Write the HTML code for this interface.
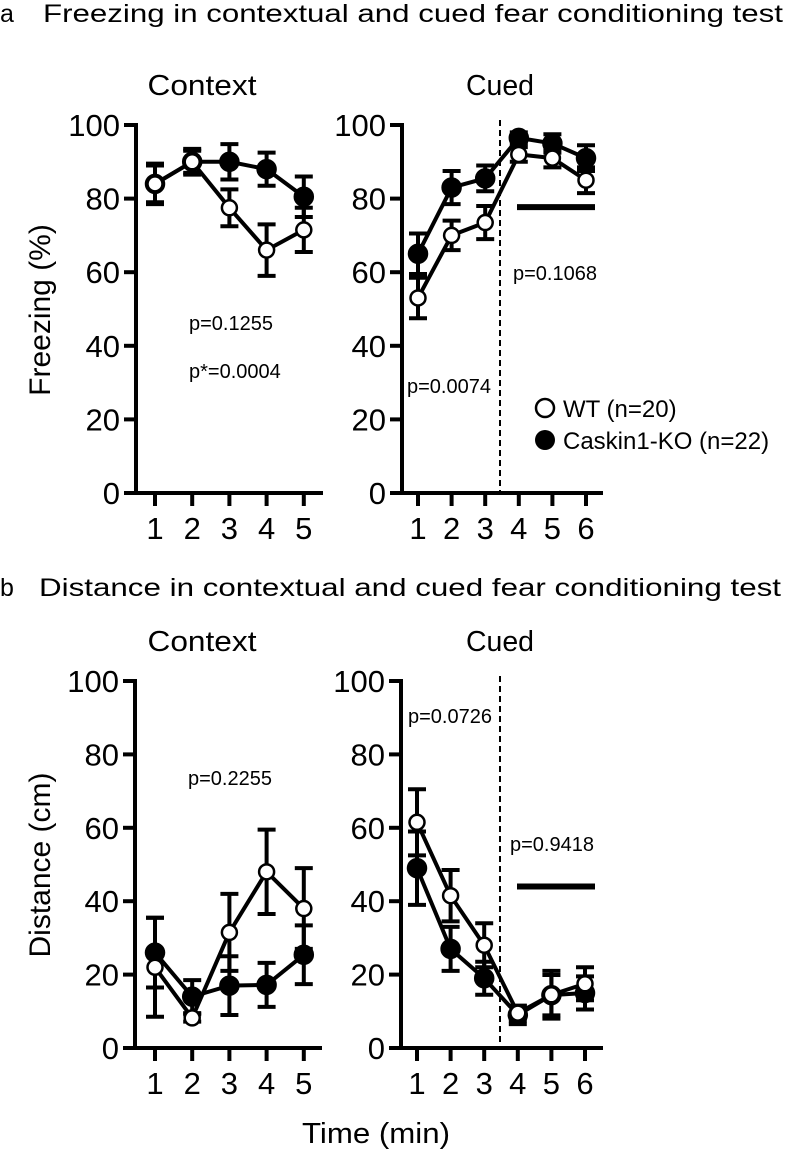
<!DOCTYPE html>
<html><head><meta charset="utf-8"><style>
html,body{margin:0;padding:0;background:#fff;}
svg{display:block;font-family:"Liberation Sans",Arial,sans-serif;}
</style></head><body>
<svg id="fig" width="786" height="1157" viewBox="0 0 786 1157" xmlns="http://www.w3.org/2000/svg">
<text x="0" y="22" font-size="25">a</text>
<text x="43" y="22" font-size="25" textLength="740" lengthAdjust="spacingAndGlyphs">Freezing in contextual and cued fear conditioning test</text>
<text x="0" y="596" font-size="25">b</text>
<text x="39" y="596" font-size="25" textLength="742" lengthAdjust="spacingAndGlyphs">Distance in contextual and cued fear conditioning test</text>
<text transform="translate(50,310) rotate(-90)" text-anchor="middle" font-size="30">Freezing (%)</text>
<text transform="translate(50,865) rotate(-90)" text-anchor="middle" font-size="30">Distance (cm)</text>
<text x="376" y="1143" text-anchor="middle" font-size="29" textLength="148" lengthAdjust="spacingAndGlyphs">Time (min)</text>
<g id="plots"></g>
<g>
<circle cx="545" cy="408" r="9" fill="#fff" stroke="#000" stroke-width="2.5"/>
<text x="563" y="417" font-size="24">WT (n=20)</text>
<circle cx="545" cy="440" r="10" fill="#000"/>
<text x="563" y="449" font-size="24">Caskin1-KO (n=22)</text>
</g>
</svg>
<script>
// Panel a - Context (freezing %)
const aCtxX = [1,2,3,4,5];
const aCtxWT = [84,90,77.5,66,71.5];
const aCtxWTerr = [5.5,3,5,7,6];
const aCtxKO = [84,90,90,88,80.5];
const aCtxKOerr = [5,3.5,4.8,4.5,5.5];
// Panel a - Cued
const aCueX = [1,2,3,4,5,6];
const aCueWT = [53,70,73.5,92,91,85];
const aCueWTerr = [5.5,4,4.5,2,2.5,3.5];
const aCueKO = [65,83,85.5,96.5,95,91];
const aCueKOerr = [5.5,4.5,3.5,1.5,2.5,3.5];
// Panel b - Context (distance cm)
const bCtxWT = [22,8.2,31.5,48,38];
const bCtxWTerr = [13.5,1,10.5,11.5,11];
const bCtxKO = [26,14,17,17.2,25.4];
const bCtxKOerr = [9.5,4.5,8,6,8];
// Panel b - Cued
const bCueWT = [61.5,41.5,28,9.5,14.5,17.5];
const bCueWTerr = [9,7,6,2,6.5,4.5];
const bCueKO = [49,27,19,9,14.4,15];
const bCueKOerr = [10,6,4.5,2.5,5.5,4.5];
const yTicks = [0,20,40,60,80,100];

const NS="http://www.w3.org/2000/svg";
const root=document.getElementById('plots');
function mk(tag,attrs,parent){const e=document.createElementNS(NS,tag);for(const k in attrs)e.setAttribute(k,attrs[k]);(parent||root).appendChild(e);return e;}

function panel(cfg){
  const g=mk('g',{});
  
  
  const y=v=>cfg.y0-(v/100)*(cfg.y0-cfg.y100);
  const x=i=>cfg.x1+(i-1)*cfg.dx;
  const ya=mk('line',{x1:cfg.ax,y1:cfg.y0+2,x2:cfg.ax,y2:cfg.y100-2,stroke:'#000','stroke-width':4},g);
  
  
  const xa=mk('line',{x1:cfg.xs,y1:cfg.y0,x2:cfg.xe,y2:cfg.y0,stroke:'#000','stroke-width':4},g);
  
  
  yTicks.forEach(v=>{
    mk('line',{x1:cfg.ax-12,y1:y(v),x2:cfg.ax,y2:y(v),stroke:'#000','stroke-width':4},g);
    const t=mk('text',{x:cfg.ax-16,y:y(v)+11,'text-anchor':'end','font-size':31},g);
    
    
    t.textContent=v;
  });
  cfg.xs_.forEach(i=>{
    mk('line',{x1:x(i),y1:cfg.y0,x2:x(i),y2:cfg.y0+13,stroke:'#000','stroke-width':4},g);
    const t=mk('text',{x:x(i),y:cfg.y0+46,'text-anchor':'middle','font-size':31},g);
    
    
    t.textContent=i;
  });
  const st=mk('text',{x:cfg.sx,y:cfg.y100-30,'text-anchor':'middle','font-size':29,textLength:cfg.sw,lengthAdjust:'spacingAndGlyphs'},g);
  
  
  st.textContent=cfg.sub;
  if(cfg.dash){
    const d=mk('line',{x1:500,y1:cfg.y100-5,x2:500,y2:cfg.y0,stroke:'#000','stroke-width':2,'stroke-dasharray':'6,4'},g);
    
    
  }
  if(cfg.bar!==undefined){
    const b=mk('line',{x1:517,y1:y(cfg.bar),x2:595,y2:y(cfg.bar),stroke:'#000','stroke-width':6},g);
    
    
  }
  cfg.texts.forEach(tt=>{
    const t=mk('text',{x:tt[0],y:tt[1],'font-size':20},g);
    
    
    t.textContent=tt[2];
  });
  [['ko',cfg.ko,cfg.koe,'#000',9],['wt',cfg.wt,cfg.wte,'#fff',7.5]].forEach(s=>{
    const [nm,vals,errs,fill,r]=s;
    const sg=mk('g',{},g);
    
    
    vals.forEach((v,k)=>{
      const cx=x(k+1),e=errs[k];
      mk('line',{x1:cx,y1:y(v+e),x2:cx,y2:y(v-e),stroke:'#000','stroke-width':4},sg);
      mk('line',{x1:cx-9,y1:y(v+e),x2:cx+9,y2:y(v+e),stroke:'#000','stroke-width':4},sg);
      mk('line',{x1:cx-9,y1:y(v-e),x2:cx+9,y2:y(v-e),stroke:'#000','stroke-width':4},sg);
    });
    const pts=vals.map((v,k)=>x(k+1)+','+y(v)).join(' ');
    const pl=mk('polyline',{points:pts,fill:'none',stroke:'#000','stroke-width':4},sg);
    
    
    vals.forEach((v,k)=>{
      const c=mk('circle',{cx:x(k+1),cy:y(v),r:r,fill:fill,stroke:'#000','stroke-width':2.5},sg);
      
      
    });
  });
}
panel({name:'panel-a-context',ax:136,xs:125,xe:323,y0:493,y100:125,x1:155,dx:37.2,xs_:aCtxX,sub:'Context',sx:202,sw:109,
  wt:aCtxWT,wte:aCtxWTerr,ko:aCtxKO,koe:aCtxKOerr,texts:[[189,330,'p=0.1255'],[189,378,'p*=0.0004']]});
panel({name:'panel-a-cued',ax:402,xs:390,xe:603,y0:493,y100:125,x1:418,dx:33.6,xs_:aCueX,sub:'Cued',sx:500,sw:68,dash:true,bar:77.7,
  wt:aCueWT,wte:aCueWTerr,ko:aCueKO,koe:aCueKOerr,texts:[[513,280,'p=0.1068'],[407,393,'p=0.0074']]});
panel({name:'panel-b-context',ax:135,xs:124,xe:322,y0:1048,y100:681,x1:155,dx:37.2,xs_:aCtxX,sub:'Context',sx:202,sw:109,
  wt:bCtxWT,wte:bCtxWTerr,ko:bCtxKO,koe:bCtxKOerr,texts:[[188,785,'p=0.2255']]});
panel({name:'panel-b-cued',ax:401,xs:390,xe:603,y0:1048,y100:681,x1:417,dx:33.6,xs_:aCueX,sub:'Cued',sx:500,sw:68,dash:true,bar:44,
  wt:bCueWT,wte:bCueWTerr,ko:bCueKO,koe:bCueKOerr,texts:[[408,723,'p=0.0726'],[510,851,'p=0.9418']]});
</script>
</body></html>
